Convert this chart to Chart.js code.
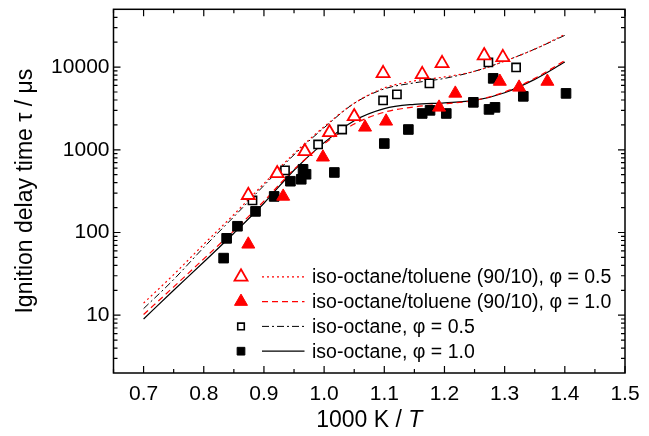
<!DOCTYPE html>
<html>
<head>
<meta charset="utf-8">
<script src="https://cdn.jsdelivr.net/npm/chart.js@4.4.0/dist/chart.umd.min.js"></script>
<style>
  html, body { margin: 0; padding: 0; background: #fff; }
  #wrap { width: 649px; height: 436px; }
</style>
</head>
<body>
<div id="wrap"><canvas id="grafico" width="649" height="436"></canvas></div>
<script>
// assi
var xTicks = [0.7, 0.8, 0.9, 1.0, 1.1, 1.2, 1.3, 1.4, 1.5];
var yTicks = [10, 100, 1000, 10000];

// iso-octane/toluene (90/10), phi = 0.5 (triangoli vuoti)
var tol05X = [0.874, 0.922, 0.968, 1.009, 1.050, 1.098, 1.163, 1.196, 1.266, 1.297];
var tol05Y = [282, 518, 955, 1620, 2530, 8400, 8170, 11100, 13800, 13100];

// iso-octane/toluene (90/10), phi = 1.0 (triangoli pieni)
var tol10X = [0.874, 0.932, 0.998, 1.068, 1.103, 1.191, 1.218, 1.292, 1.324, 1.371];
var tol10Y = [72, 273, 813, 1870, 2210, 3260, 4810, 6700, 5690, 6700];

// iso-octane, phi = 0.5 (quadrati vuoti)
var iso05X = [0.881, 0.935, 0.990, 1.030, 1.098, 1.121, 1.175, 1.273, 1.319];
var iso05Y = [244, 564, 1160, 1760, 3950, 4680, 6350, 11400, 9900];

// iso-octane, phi = 1.0 (quadrati pieni)
var iso10X = [0.833, 0.838, 0.856, 0.886, 0.917, 0.944, 0.962, 0.965, 0.970, 1.017, 1.100,
              1.140, 1.163, 1.176, 1.203, 1.248, 1.274, 1.284, 1.281, 1.331, 1.402];
var iso10Y = [49, 85, 119, 180, 273, 417, 440, 581, 506, 532, 1190,
              1760, 2750, 3000, 2750, 3750, 3080, 3260, 7310, 4430, 4810];

// curve del modello
var modX = [0.70, 0.75, 0.80, 0.85, 0.90, 0.95, 1.00, 1.05, 1.10, 1.15, 1.20, 1.25, 1.30, 1.35, 1.40];
var modTol05 = [14, 31, 72, 165, 390, 900, 1900, 3650, 5600, 6800, 7600, 8900, 11800, 16500, 24800];
var modTol10 = [10.2, 22, 48, 105, 240, 580, 1180, 2050, 2850, 3300, 3600, 3950, 5000, 7300, 12000];
var modIso05 = [12, 27, 66, 155, 370, 870, 1850, 3650, 5450, 6450, 7300, 8900, 11800, 16500, 24200];
var modIso10 = [9, 20, 44, 98, 226, 566, 1220, 2250, 3150, 3550, 3700, 3950, 4900, 7100, 11500];

var legendaTesti = [
  'iso-octane/toluene (90/10), \u03c6 = 0.5',
  'iso-octane/toluene (90/10), \u03c6 = 1.0',
  'iso-octane, \u03c6 = 0.5',
  'iso-octane, \u03c6 = 1.0'
];

var FONT = '"Liberation Sans", Arial, sans-serif';
var ROSSO = '#ff0000';

function punti(xs, ys) {
  return xs.map(function (x, i) { return { x: x, y: ys[i] }; });
}

// stili dei simboli (usati anche dalla legenda)
var simboli = [
  { pointStyle: 'triangle', radius: 7.5, fill: '#ffffff', stroke: ROSSO, bw: 1.8 },
  { pointStyle: 'triangle', radius: 7.5, fill: ROSSO, stroke: ROSSO, bw: 1 },
  { pointStyle: 'rect', radius: 5.8, fill: '#ffffff', stroke: '#000', bw: 1.6 },
  { pointStyle: 'rect', radius: 6.8, fill: '#000', stroke: '#000', bw: 1 }
];
var linee = [
  { color: ROSSO, dash: [2, 3], width: 1.2 },
  { color: ROSSO, dash: [6, 4], width: 1.2 },
  { color: '#000', dash: [7, 3, 2, 3], width: 1 },
  { color: '#000', dash: [], width: 1.2 }
];

function lineaDs(dati, st) {
  return {
    data: punti(modX, dati), showLine: true, pointRadius: 0, borderColor: st.color,
    borderWidth: st.width, borderDash: st.dash, cubicInterpolationMode: 'monotone', fill: false
  };
}
function puntiDs(xs, ys, s) {
  return {
    data: punti(xs, ys), showLine: false, pointStyle: s.pointStyle, pointRadius: s.radius,
    pointHoverRadius: s.radius, backgroundColor: s.fill, borderColor: s.stroke, borderWidth: s.bw
  };
}

// cornice con tacche verso l'interno
var cornice = {
  id: 'cornice',
  afterDatasetsDraw: function (chart) {
    var ctx = chart.ctx, a = chart.chartArea;
    var sx = chart.scales.x, sy = chart.scales.y;
    ctx.save();
    ctx.strokeStyle = '#000';
    ctx.lineWidth = 1.5;
    ctx.setLineDash([]);
    ctx.strokeRect(a.left, a.top, a.right - a.left, a.bottom - a.top);
    ctx.lineWidth = 1.2;
    ctx.beginPath();
    xTicks.forEach(function (v) {
      var px = sx.getPixelForValue(v);
      ctx.moveTo(px, a.bottom); ctx.lineTo(px, a.bottom - 7);
      ctx.moveTo(px, a.top); ctx.lineTo(px, a.top + 7);
      var pm = sx.getPixelForValue(v - 0.05);
      ctx.moveTo(pm, a.bottom); ctx.lineTo(pm, a.bottom - 4);
      ctx.moveTo(pm, a.top); ctx.lineTo(pm, a.top + 4);
    });
    yTicks.forEach(function (v) {
      var py = sy.getPixelForValue(v);
      ctx.moveTo(a.left, py); ctx.lineTo(a.left + 7, py);
      ctx.moveTo(a.right, py); ctx.lineTo(a.right - 7, py);
    });
    [1, 10, 100, 1000, 10000].forEach(function (d) {
      for (var m = 2; m <= 9; m++) {
        var v = m * d;
        if (v <= sy.min || v >= sy.max) continue;
        var py = sy.getPixelForValue(v);
        ctx.moveTo(a.left, py); ctx.lineTo(a.left + 4, py);
        ctx.moveTo(a.right, py); ctx.lineTo(a.right - 4, py);
      }
    });
    ctx.stroke();
    ctx.restore();
  },
  afterDraw: function (chart) {
    var ctx = chart.ctx, a = chart.chartArea;
    ctx.save();
    // legenda
    ctx.font = '19.5px ' + FONT;
    ctx.textBaseline = 'middle';
    ctx.textAlign = 'left';
    for (var i = 0; i < 4; i++) {
      var y = a.top + 267.5 + i * 24.8;
      var mx = a.left + 127.5;
      var s = simboli[i];
      ctx.fillStyle = s.fill;
      ctx.strokeStyle = s.stroke;
      ctx.lineWidth = s.bw;
      ctx.setLineDash([]);
      Chart.helpers.drawPoint(ctx, {
        pointStyle: s.pointStyle, rotation: 0, borderWidth: s.bw,
        radius: s.pointStyle === 'rect' ? s.radius * 0.8 : s.radius
      }, mx, y);
      var l = linee[i];
      ctx.strokeStyle = l.color;
      ctx.lineWidth = l.width;
      ctx.setLineDash(l.dash);
      ctx.beginPath();
      ctx.moveTo(a.left + 148.5, y);
      ctx.lineTo(a.left + 191, y);
      ctx.stroke();
      ctx.setLineDash([]);
      ctx.fillStyle = '#000';
      ctx.fillText(legendaTesti[i], a.left + 198.5, y + 1);
    }
    // titolo asse x con T in corsivo
    var parte1 = '1000 K / ', parte2 = 'T';
    ctx.font = '23px ' + FONT;
    var w1 = ctx.measureText(parte1).width;
    ctx.font = 'italic 23px ' + FONT;
    var w2 = ctx.measureText(parte2).width;
    var x0 = (a.left + a.right) / 2 - (w1 + w2) / 2;
    ctx.textBaseline = 'middle';
    ctx.font = '23px ' + FONT;
    ctx.fillText(parte1, x0, 421);
    ctx.font = 'italic 23px ' + FONT;
    ctx.fillText(parte2, x0 + w1, 421);
    ctx.restore();
  }
};

var ctx = document.getElementById('grafico').getContext('2d');
var grafico = new Chart(ctx, {
  type: 'scatter',
  data: {
    datasets: [
      puntiDs(tol05X, tol05Y, simboli[0]),
      puntiDs(tol10X, tol10Y, simboli[1]),
      puntiDs(iso05X, iso05Y, simboli[2]),
      puntiDs(iso10X, iso10Y, simboli[3]),
      lineaDs(modTol05, linee[0]),
      lineaDs(modTol10, linee[1]),
      lineaDs(modIso05, linee[2]),
      lineaDs(modIso10, linee[3])
    ]
  },
  options: {
    responsive: false,
    animation: false,
    layout: { padding: { left: 0, right: 24, top: 8.5, bottom: 0 } },
    plugins: { legend: { display: false }, tooltip: { enabled: false } },
    scales: {
      x: {
        type: 'linear', min: 0.65, max: 1.5,
        afterBuildTicks: function (s) { s.ticks = xTicks.map(function (v) { return { value: v }; }); },
        afterFit: function (s) { s.height = 63; s.paddingLeft = 0; s.paddingRight = 0; },
        grid: { display: false, drawTicks: false },
        border: { display: false },
        ticks: {
          color: '#000', padding: 9, maxRotation: 0,
          font: { family: FONT, size: 21 },
          callback: function (v) { return Number(v).toFixed(1); }
        }
      },
      y: {
        type: 'logarithmic', min: 2, max: 50000,
        afterBuildTicks: function (s) { s.ticks = yTicks.map(function (v) { return { value: v }; }); },
        afterFit: function (s) { s.width = 113.5; s.paddingTop = 0; s.paddingBottom = 0; },
        grid: { display: false, drawTicks: false },
        border: { display: false },
        ticks: {
          color: '#000', padding: 4,
          font: { family: FONT, size: 21 },
          callback: function (v) { return String(v); }
        },
        title: {
          display: true, text: 'Ignition delay time \u03c4 / \u03bcs', color: '#000',
          font: { family: FONT, size: 23 }, padding: { top: 12, bottom: 0 }
        }
      }
    }
  },
  plugins: [cornice]
});
</script>
</body>
</html>
